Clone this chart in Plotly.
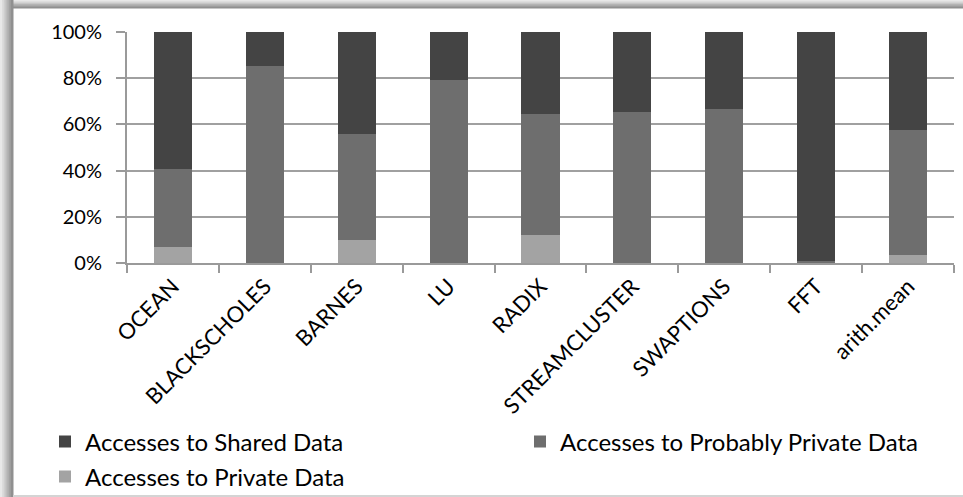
import plotly.graph_objects as go

categories = ["OCEAN", "BLACKSCHOLES", "BARNES", "LU", "RADIX",
              "STREAMCLUSTER", "SWAPTIONS", "FFT", "arith.mean"]
private_data = [7.1, 0.0, 10.1, 0.0, 12.3, 0.0, 0.0, 0.0, 3.6]
probably_private = [33.5, 85.5, 45.7, 79.3, 52.2, 65.3, 66.8, 1.0, 53.9]
shared_data = [100 - a - b for a, b in zip(private_data, probably_private)]
y_ticks = [0, 20, 40, 60, 80, 100]
y_tick_labels = ["0%", "20%", "40%", "60%", "80%", "100%"]

W, H = 963, 497
ML, MR, MT, MB = 127, 9, 32, 234
PW, PH = W - ML - MR, H - MT - MB
FONT = "Lato"

def px_x(x):
    return (x - ML) / PW

def px_y(y):
    return (H - MB - y) / PH

fig = go.Figure()
fig.add_trace(go.Bar(name="Accesses to Private Data", x=categories, y=private_data,
                     marker=dict(color="#a3a3a3", line=dict(width=0)), legend="legend4"))
fig.add_trace(go.Bar(name="Accesses to Probably Private Data", x=categories, y=probably_private,
                     marker=dict(color="#6e6e6e", line=dict(width=0)), legend="legend3"))
fig.add_trace(go.Bar(name="Accesses to Shared Data", x=categories, y=shared_data,
                     marker=dict(color="#444444", line=dict(width=0)), legend="legend2"))

shapes = []
# frame shadow (left and top gradient bands)
band_cols = ["#e8e8e8", "#d8d8d8", "#c6c6c6", "#b4b4b4", "#a2a2a2", "#909090"]
n = len(band_cols)
for i, c in enumerate(band_cols):
    x0 = i * 13 / n
    x1 = (i + 1) * 13 / n + 0.5
    shapes.append(dict(type="rect", xref="paper", yref="paper",
                       x0=px_x(x0), x1=px_x(x1), y0=px_y(H), y1=px_y(0),
                       fillcolor=c, line=dict(width=0), layer="below"))
    y0 = i * 8 / n
    y1 = (i + 1) * 8 / n + 0.5
    shapes.append(dict(type="rect", xref="paper", yref="paper",
                       x0=px_x(x1 - 0.5 if i else 0), x1=px_x(W), y0=px_y(y1), y1=px_y(y0),
                       fillcolor=c, line=dict(width=0), layer="below"))
shapes.append(dict(type="rect", xref="paper", yref="paper",
                   x0=px_x(13), x1=px_x(W), y0=px_y(H), y1=px_y(H - 2),
                   fillcolor="#d4d4d4", line=dict(width=0), layer="below"))

legend_common = dict(orientation="h", xref="container", yref="container",
                     xanchor="left", yanchor="middle",
                     font=dict(family=FONT, size=24, color="#000000"),
                     bgcolor="rgba(0,0,0,0)", itemwidth=30, tracegroupgap=0)

fig.update_layout(
    width=W, height=H,
    margin=dict(l=ML, r=MR, t=MT, b=MB, pad=0, autoexpand=False),
    paper_bgcolor="white", plot_bgcolor="white",
    barmode="stack", bargap=0.585,
    font=dict(family=FONT, size=17, color="#000000"),
    showlegend=True,
    xaxis=dict(showline=True, linecolor="#9a9a9a", linewidth=2, automargin=False,
               ticks="outside", tickson="boundaries", ticklen=8, tickcolor="#9a9a9a",
               tickwidth=2, tickangle=-45, tickfont=dict(family=FONT, size=22)),
    yaxis=dict(range=[0, 100], tickvals=y_ticks, ticktext=y_tick_labels, automargin=False,
               showline=True, linecolor="#9a9a9a", linewidth=2,
               showgrid=True, gridcolor="#a0a0a0", gridwidth=2,
               ticks="outside", ticklen=9, tickcolor="#9a9a9a", tickwidth=2,
               ticklabelstandoff=10,
               tickfont=dict(family=FONT, size=20), zeroline=False),
    legend2=dict(x=45 / W, y=1 - 442 / H, **legend_common),
    legend3=dict(x=520 / W, y=1 - 442 / H, **legend_common),
    legend4=dict(x=45 / W, y=1 - 477 / H, **legend_common),
    shapes=shapes,
)

fig.write_html("out.html")
